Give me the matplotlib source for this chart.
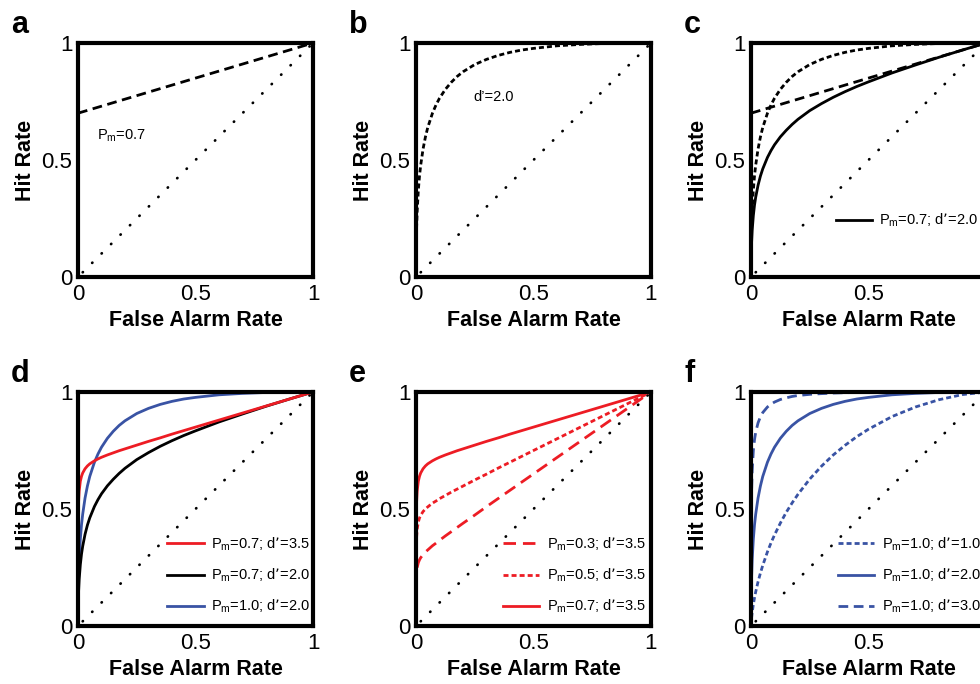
import numpy as np
import matplotlib
matplotlib.use("Agg")
import matplotlib.pyplot as plt

plt.rcParams['font.family'] = ['Liberation Sans', 'DejaVu Sans']
plt.rcParams['mathtext.default'] = 'regular'

# false alarm rates at which the curves were read
fa = [0, 0.0001, 0.001, 0.0025, 0.005, 0.01, 0.015, 0.02, 0.03, 0.04, 0.05, 0.07,
      0.085, 0.1, 0.125, 0.15, 0.175, 0.2, 0.25, 0.3, 0.35, 0.4, 0.45, 0.5, 0.6,
      0.7, 0.8, 0.9, 1.0]

# hit rates, one list per model curve
hit_sdt_d1 = [0, 0.005, 0.018, 0.0354, 0.058, 0.092, 0.121, 0.146, 0.189, 0.226,
              0.259, 0.317, 0.355, 0.389, 0.440, 0.486, 0.526, 0.563, 0.628, 0.683,
              0.731, 0.772, 0.809, 0.841, 0.895, 0.936, 0.967, 0.989, 1.0]
hit_sdt_d2 = [0, 0.043, 0.138, 0.210, 0.282, 0.372, 0.433, 0.478, 0.547, 0.598,
              0.639, 0.700, 0.735, 0.764, 0.802, 0.832, 0.857, 0.877, 0.908, 0.930,
              0.947, 0.960, 0.970, 0.977, 0.988, 0.994, 0.998, 0.9995, 1.0]
hit_sdt_d3 = [0, 0.236, 0.464, 0.577, 0.664, 0.750, 0.797, 0.828, 0.868, 0.894,
              0.912, 0.936, 0.948, 0.957, 0.968, 0.975, 0.981, 0.985, 0.990, 0.993,
              0.9955, 0.997, 0.998, 0.9987, 0.9995, 0.9998, 1.0, 1.0, 1.0]
hit_pm07_d2 = [0, 0.030, 0.097, 0.148, 0.199, 0.263, 0.308, 0.341, 0.392, 0.431,
               0.462, 0.511, 0.540, 0.565, 0.599, 0.627, 0.652, 0.674, 0.711, 0.741,
               0.768, 0.792, 0.814, 0.834, 0.872, 0.906, 0.939, 0.970, 1.0]
hit_pm07_d35 = [0, 0.289, 0.462, 0.530, 0.577, 0.619, 0.640, 0.654, 0.672, 0.684,
                0.693, 0.706, 0.714, 0.721, 0.731, 0.740, 0.749, 0.757, 0.773, 0.789,
                0.804, 0.820, 0.835, 0.850, 0.880, 0.910, 0.940, 0.970, 1.0]
hit_pm05_d35 = [0, 0.207, 0.330, 0.379, 0.414, 0.445, 0.462, 0.473, 0.489, 0.500,
                0.509, 0.525, 0.534, 0.544, 0.558, 0.572, 0.585, 0.598, 0.624, 0.649,
                0.675, 0.700, 0.725, 0.750, 0.800, 0.850, 0.900, 0.950, 1.0]
hit_pm03_d35 = [0, 0.124, 0.198, 0.229, 0.250, 0.271, 0.283, 0.292, 0.305, 0.316,
                0.325, 0.343, 0.354, 0.366, 0.385, 0.403, 0.421, 0.439, 0.474, 0.510,
                0.545, 0.580, 0.615, 0.650, 0.720, 0.790, 0.860, 0.930, 1.0]

# high-threshold line (panel a) and chance line
ht_fa = [0, 1]
ht_hit = [0.7, 1.0]
chance = [0, 1]

RED = '#ed1c24'
BLUE = '#3953a4'
dense = (0, (1.8, 1.1))
dash = (0, (3.5, 2.0))
ldash = (0, (4.5, 2.5))

fig = plt.figure(figsize=(9.8, 6.84), dpi=100)

W, H = 980.0, 684.0
lefts = [78, 416, 751]
tops = [43, 392]
size_w, size_h = 235, 234


def make_ax(col, row, letter):
    ax = fig.add_axes([lefts[col] / W, 1 - (tops[row] + size_h) / H, size_w / W, size_h / H])
    ax.set_xlim(0, 1)
    ax.set_ylim(0, 1)
    ax.set_xticks([0, 0.5, 1])
    ax.set_yticks([0, 0.5, 1])
    ax.set_xticklabels(['0', '0.5', '1'])
    ax.set_yticklabels(['0', '0.5', '1'])
    ax.tick_params(length=0, labelsize=16)
    ax.tick_params(axis='x', pad=5)
    ax.tick_params(axis='y', pad=4)
    for s in ax.spines.values():
        s.set_linewidth(3)
        s.set_zorder(5)
    ax.set_xlabel('False Alarm Rate', fontsize=15.5, fontweight='bold')
    ax.set_ylabel('Hit Rate', fontsize=15.5, fontweight='bold')
    ax.xaxis.set_label_coords(0.5, -0.14)
    ax.yaxis.set_label_coords(-0.18, 0.5)
    ax.plot(chance, chance, color='black', lw=2, linestyle=(2.4, (0.1, 4.7)),
            dash_capstyle='round')
    fig.text((lefts[col] - 67) / W, 1 - (tops[row] - 10) / H, letter,
             fontsize=22, fontweight='bold', va='baseline', ha='left')
    return ax


def leg(ax, x0, y0, handles=None, labels=None):
    kw = dict(loc='lower left', bbox_to_anchor=(x0, y0), frameon=False, fontsize=10.5,
              handlelength=2.5, handletextpad=0.5, labelspacing=0.95,
              borderpad=0, borderaxespad=0)
    if handles is None:
        ax.legend(**kw)
    else:
        ax.legend(handles, labels, **kw)


# a
ax = make_ax(0, 0, 'a')
ax.plot(ht_fa, ht_hit, color='black', lw=2, linestyle=dash)
ax.text(0.08, 0.605, 'P$_m$=0.7', fontsize=10.5, va='center')

# b
ax = make_ax(1, 0, 'b')
ax.plot(fa, hit_sdt_d2, color='black', lw=2, linestyle=dense)
ax.text(0.245, 0.77, 'd’=2.0', fontsize=10.5, va='center')

# c
ax = make_ax(2, 0, 'c')
ax.plot(fa, hit_sdt_d2, color='black', lw=2, linestyle=dense)
ax.plot(ht_fa, ht_hit, color='black', lw=2, linestyle=dash)
ax.plot(fa, hit_pm07_d2, color='black', lw=2, label='P$_m$=0.7; d’=2.0')
leg(ax, 0.36, 0.205)

# d
ax = make_ax(0, 1, 'd')
l_blue, = ax.plot(fa, hit_sdt_d2, color=BLUE, lw=2)
l_black, = ax.plot(fa, hit_pm07_d2, color='black', lw=2)
l_red, = ax.plot(fa, hit_pm07_d35, color=RED, lw=2)
leg(ax, 0.38, 0.045, [l_red, l_black, l_blue],
    ['P$_m$=0.7; d’=3.5', 'P$_m$=0.7; d’=2.0', 'P$_m$=1.0; d’=2.0'])

# e
ax = make_ax(1, 1, 'e')
ax.plot(fa, hit_pm03_d35, color=RED, lw=2, linestyle=ldash, label='P$_m$=0.3; d’=3.5')
ax.plot(fa, hit_pm05_d35, color=RED, lw=2, linestyle=dense, label='P$_m$=0.5; d’=3.5')
ax.plot(fa, hit_pm07_d35, color=RED, lw=2, label='P$_m$=0.7; d’=3.5')
leg(ax, 0.37, 0.045)

# f
ax = make_ax(2, 1, 'f')
ax.plot(fa, hit_sdt_d1, color=BLUE, lw=2, linestyle=dense, label='P$_m$=1.0; d’=1.0')
ax.plot(fa, hit_sdt_d2, color=BLUE, lw=2, label='P$_m$=1.0; d’=2.0')
ax.plot(fa, hit_sdt_d3, color=BLUE, lw=2, linestyle=dash, label='P$_m$=1.0; d’=3.0')
leg(ax, 0.37, 0.045)

fig.savefig('out.png', dpi=100)
